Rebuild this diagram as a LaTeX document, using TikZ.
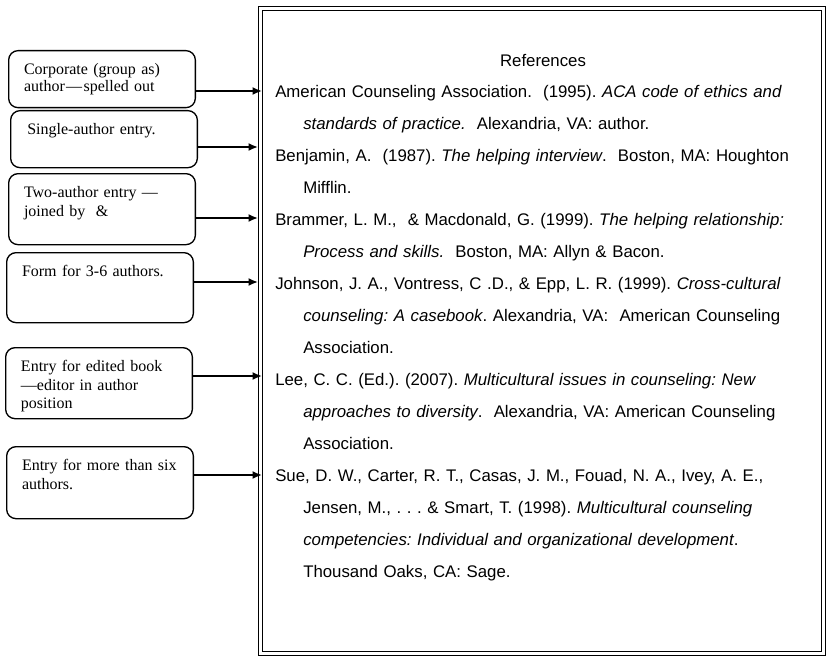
\documentclass[tikz,border=0pt]{standalone}
\usepackage{fontspec}
\setmainfont{Liberation Serif}
\setsansfont{Liberation Sans}
\usetikzlibrary{arrows.meta}

\begin{document}
\begin{tikzpicture}[
    x=0.75pt, y=-0.75pt,
    note/.style={rectangle, rounded corners=7pt, draw, line width=1pt, anchor=north west,
        text width=117pt, align=left, inner xsep=11.5pt, inner ysep=6pt, text height=12pt,
        font=\fontsize{12}{13.8}\selectfont},
    entry/.style={anchor=base west, inner sep=0pt, text width=405pt,
        font=\sffamily\frenchspacing\fontsize{12.6}{24}\selectfont},
    reftitle/.style={anchor=base, inner sep=0pt, font=\sffamily\fontsize{12.6}{24}\selectfont},
    frame/.style={rectangle, draw, line width=0.9pt, double, double distance=2.2pt,
        minimum width=421.95pt, minimum height=483.5pt, inner sep=0pt},
    arrow/.style={-{Latex[length=7pt, width=6pt]}, line width=1.4pt}
]
    \useasboundingbox (0,0) rectangle (827,656);

    % Reference list in its frame
    \node[frame] (refs) at (542,331) {};
    \node[reftitle] (title) at (543,67) {References};

    \node[entry] (aca) at (275,97.5) {\hangindent=21pt\hangafter=1
        American Counseling Association.\ \ (1995). \textit{ACA code of ethics and}\newline
        \textit{standards of practice.}\ \ Alexandria, VA: author.\par};
    \node[entry] (benjamin) at (275,161.5) {\hangindent=21pt\hangafter=1
        Benjamin, A.\ \ (1987). \textit{The helping interview}.\ \ Boston, MA: Houghton\newline
        Mifflin.\par};
    \node[entry] (brammer) at (275,225.5) {\hangindent=21pt\hangafter=1
        Brammer, L. M.,\ \ \& Macdonald, G. (1999). \textit{The helping relationship:}\newline
        \textit{Process and skills.}\ \ Boston, MA: Allyn \& Bacon.\par};
    \node[entry] (johnson) at (275,289.5) {\hangindent=21pt\hangafter=1
        Johnson, J. A., Vontress, C .D., \& Epp, L. R. (1999). \textit{Cross-cultural}\newline
        \textit{counseling: A casebook}. Alexandria, VA:\ \ American Counseling\newline
        Association.\par};
    \node[entry] (lee) at (275,385.5) {\hangindent=21pt\hangafter=1
        Lee, C. C. (Ed.). (2007). \textit{Multicultural issues in counseling: New}\newline
        \textit{approaches to diversity}.\ \ Alexandria, VA: American Counseling\newline
        Association.\par};
    \node[entry] (sue) at (275,481.5) {\hangindent=21pt\hangafter=1
        Sue, D. W., Carter, R. T., Casas, J. M., Fouad, N. A., Ivey, A. E.,\newline
        Jensen, M., . . . \& Smart, T. (1998). \textit{Multicultural counseling}\newline
        \textit{competencies: Individual and organizational development}.\newline
        Thousand Oaks, CA: Sage.\par};

    % Notes on the left
    \node[note, text depth=18.75pt] (corp) at (8,50) {Corporate (group as)\\[-1pt]
        author\kern1pt—\kern1pt spelled out};
    \node[note, text depth=18.75pt] (single) at (10,110) {\hspace{1pt}Single-author entry.};
    \node[note, text depth=29.25pt] (two) at (8,173) {Two-author entry —\\joined by\ \ \&};
    \node[note, text depth=28.5pt] (form) at (6,252) {Form for 3-6 authors.};
    \node[note, text depth=29.25pt] (edited) at (5,347) {Entry for edited book\\
        —editor in author\\position};
    \node[note, text depth=30pt] (six) at (6,446) {Entry for more than six\\authors.};

    % Arrow ends on the frame
    \coordinate (a1) at (262,91);
    \coordinate (a2) at (258,147);
    \coordinate (a3) at (258,218);
    \coordinate (a4) at (258,282);
    \coordinate (a5) at (262,376);
    \coordinate (a6) at (262,475);

    \draw[arrow] (corp.east |- a1) -- (a1);
    \draw[arrow] (single.east |- a2) -- (a2);
    \draw[arrow] (two.east |- a3) -- (a3);
    \draw[arrow] (form.east |- a4) -- (a4);
    \draw[arrow] (edited.east |- a5) -- (a5);
    \draw[arrow] (six.east |- a6) -- (a6);
\end{tikzpicture}
\end{document}
